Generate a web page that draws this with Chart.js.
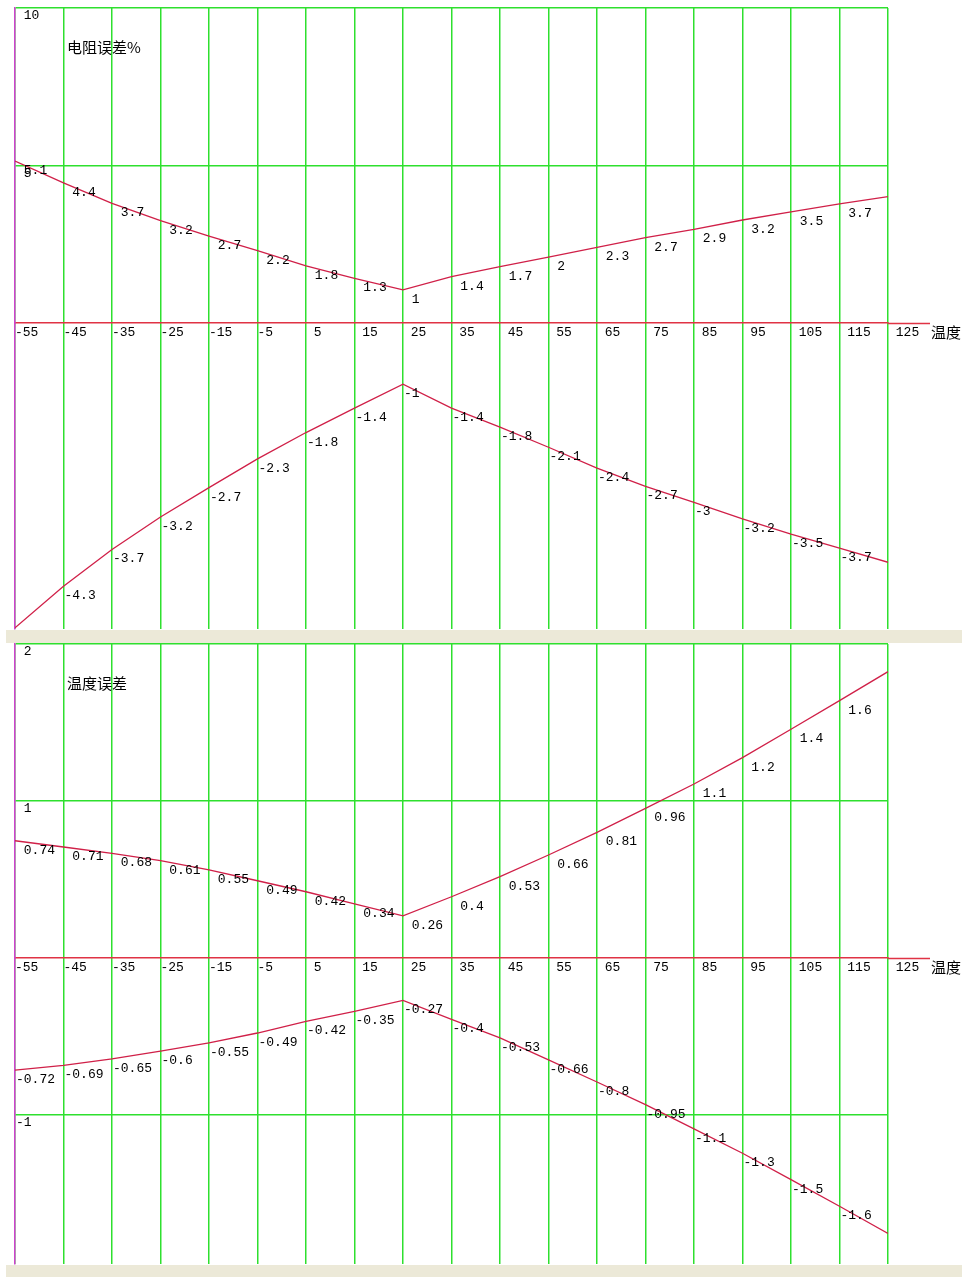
<!DOCTYPE html>
<html>
<head>
<meta charset="utf-8">
<script src="https://cdn.jsdelivr.net/npm/chart.js@4.4.1/dist/chart.umd.min.js"></script>
<style>
  body { margin: 0; background: #fff; width: 962px; height: 1277px; position: relative; overflow: hidden; }
  canvas { position: absolute; left: 0; }
  .bar { position: absolute; left: 6px; right: 0; background: #ece9d8; }
</style>
</head>
<body>
<canvas id="resChart" width="962" height="630" style="top:0"></canvas>
<div class="bar" style="top:630px;height:13px"></div>
<canvas id="tempChart" width="962" height="622" style="top:643px"></canvas>
<div class="bar" style="top:1265px;height:12px"></div>
<script>
// temperature points (also the x tick labels)
const temps = [-55, -45, -35, -25, -15, -5, 5, 15, 25, 35, 45, 55, 65, 75, 85, 95, 105, 115, 125];

// resistance error %, upper and lower curve (as plotted)
const resUp = [5.14, 4.45, 3.80, 3.25, 2.76, 2.30, 1.81, 1.42, 1.05, 1.47, 1.79, 2.09, 2.40, 2.71, 2.97, 3.27, 3.53, 3.78, 4.01];
const resDown = [-4.98, -4.30, -3.70, -3.17, -2.69, -2.22, -1.79, -1.39, -1.00, -1.39, -1.70, -2.03, -2.37, -2.67, -2.93, -3.20, -3.45, -3.68, -3.91];
// numbers written next to the points
const resUpShown = [5.1, 4.4, 3.7, 3.2, 2.7, 2.2, 1.8, 1.3, 1, 1.4, 1.7, 2, 2.3, 2.7, 2.9, 3.2, 3.5, 3.7, null];
const resDownShown = [null, -4.3, -3.7, -3.2, -2.7, -2.3, -1.8, -1.4, -1, -1.4, -1.8, -2.1, -2.4, -2.7, -3, -3.2, -3.5, -3.7, null];

// temperature error
const tmpUp = [0.747, 0.707, 0.667, 0.620, 0.561, 0.492, 0.422, 0.344, 0.268, 0.39, 0.518, 0.656, 0.80, 0.953, 1.108, 1.276, 1.457, 1.639, 1.824];
const tmpDown = [-0.715, -0.684, -0.643, -0.594, -0.541, -0.478, -0.404, -0.34, -0.27, -0.391, -0.509, -0.649, -0.79, -0.934, -1.089, -1.244, -1.412, -1.582, -1.756];
const tmpUpShown = [0.74, 0.71, 0.68, 0.61, 0.55, 0.49, 0.42, 0.34, 0.26, 0.4, 0.53, 0.66, 0.81, 0.96, 1.1, 1.2, 1.4, 1.6, null];
const tmpDownShown = [-0.72, -0.69, -0.65, -0.6, -0.55, -0.49, -0.42, -0.35, -0.27, -0.4, -0.53, -0.66, -0.8, -0.95, -1.1, -1.3, -1.5, -1.6, null];

// y tick labels
const resUpTicks = [5, 10];
const resDownTicks = [];
const tmpUpTicks = [1, 2];
const tmpDownTicks = [-1];

const MONO = "'Liberation Mono', 'DejaVu Sans Mono', monospace";
const CJK = "'Noto Sans CJK SC', sans-serif";
const GREEN = '#2ee02e';
const AXIS_RED = '#e03344';
const LINE_RED = '#d02048';
const MAGENTA = '#d040d0';

// positive numbers get a leading blank, like the old program did
function fmt(v) {
    return (v >= 0 ? ' ' : '') + v;
}

function noPad(scale) {
    scale.paddingTop = 0;
    scale.paddingBottom = 0;
    scale.paddingLeft = 0;
    scale.paddingRight = 0;
}

const pointLabels = {
    id: 'pointLabels',
    afterDatasetsDraw(chart) {
        const ctx = chart.ctx;
        const a = chart.chartArea;
        ctx.save();
        ctx.beginPath();
        ctx.rect(a.left, a.top, a.right - a.left, a.bottom - a.top);
        ctx.clip();
        ctx.font = '13px ' + MONO;
        ctx.fillStyle = '#000';
        ctx.textAlign = 'left';
        ctx.textBaseline = 'alphabetic';
        chart.data.datasets.forEach((ds, i) => {
            chart.getDatasetMeta(i).data.forEach((pt, j) => {
                const t = ds.shown[j];
                if (t === null) return;
                ctx.fillText(fmt(t), pt.x + 1, pt.y + 13);
            });
        });
        ctx.restore();
    },
    afterDraw(chart, args, opts) {
        const ctx = chart.ctx;
        const a = chart.chartArea;
        const y0 = Math.round(chart.scales.yUp.getPixelForValue(0)) + 0.5;
        ctx.save();
        ctx.strokeStyle = AXIS_RED;
        ctx.lineWidth = 1.5;
        ctx.beginPath();
        ctx.moveTo(a.right, y0);
        ctx.lineTo(930, y0);
        ctx.stroke();
        ctx.fillStyle = '#000';
        ctx.font = '15px ' + CJK;
        ctx.textBaseline = 'middle';
        ctx.textAlign = 'left';
        ctx.fillText(opts.title, a.left + 52, a.top + 39);
        ctx.fillText(opts.xTitle, 931, y0 + 9);
        ctx.restore();
    }
};

function makeChart(id, p) {
    const tickFont = { family: MONO, size: 13 };
    return new Chart(document.getElementById(id), {
        type: 'line',
        data: {
            datasets: [{
                data: temps.map((t, i) => ({ x: t, y: p.up[i] })),
                shown: p.upShown,
                yAxisID: 'yUp'
            }, {
                data: temps.map((t, i) => ({ x: t, y: p.down[i] })),
                shown: p.downShown,
                yAxisID: 'yDown'
            }]
        },
        options: {
            responsive: false,
            animation: false,
            devicePixelRatio: 1,
            layout: { padding: { left: 13, right: 74, top: p.padTop, bottom: p.padBottom } },
            elements: {
                line: { borderColor: LINE_RED, borderWidth: 1.3, tension: 0 },
                point: { radius: 0, hoverRadius: 0 }
            },
            plugins: {
                legend: { display: false },
                tooltip: { enabled: false },
                pointLabels: { title: p.title, xTitle: '温度' }
            },
            scales: {
                x: {
                    type: 'linear',
                    min: temps[0],
                    max: temps[temps.length - 1],
                    position: { yUp: 0 },
                    afterBuildTicks: s => { s.ticks = temps.map(v => ({ value: v })); },
                    afterFit: noPad,
                    grid: { color: GREEN, lineWidth: 1.5, drawTicks: false },
                    border: { color: AXIS_RED, width: 1.5 },
                    ticks: {
                        align: 'start', autoSkip: false, maxRotation: 0, padding: 2,
                        color: '#000', font: tickFont,
                        callback: v => fmt(v)
                    }
                },
                yUp: {
                    type: 'linear',
                    position: 'left',
                    stack: 'panel',
                    stackWeight: p.upWeight,
                    weight: 2,
                    min: 0,
                    max: p.upMax,
                    afterBuildTicks: s => { s.ticks = p.upTicks.map(v => ({ value: v })); },
                    afterFit: noPad,
                    grid: { color: GREEN, lineWidth: 1.5, drawTicks: false },
                    border: { color: MAGENTA, width: 1.5 },
                    ticks: { mirror: true, padding: 1, color: '#000', font: tickFont, callback: v => ['', fmt(v)] }
                },
                yDown: {
                    type: 'linear',
                    position: 'left',
                    stack: 'panel',
                    stackWeight: p.downWeight,
                    weight: 1,
                    min: p.downMin,
                    max: 0,
                    afterBuildTicks: s => { s.ticks = p.downTicks.map(v => ({ value: v })); },
                    afterFit: noPad,
                    grid: { display: p.downTicks.length > 0, color: GREEN, lineWidth: 1.5, drawTicks: false },
                    border: { color: MAGENTA, width: 1.5 },
                    ticks: {
                        display: p.downTicks.length > 0,
                        mirror: true, padding: 1, color: '#000', font: tickFont,
                        callback: v => ['', fmt(v)]
                    }
                }
            }
        },
        plugins: [pointLabels]
    });
}

makeChart('resChart', {
    up: resUp, down: resDown, upShown: resUpShown, downShown: resDownShown,
    upTicks: resUpTicks, downTicks: resDownTicks,
    upMax: 10, downMin: -5, upWeight: 315, downWeight: 306,
    padTop: 8, padBottom: 1, title: '电阻误差%'
});

makeChart('tempChart', {
    up: tmpUp, down: tmpDown, upShown: tmpUpShown, downShown: tmpDownShown,
    upTicks: tmpUpTicks, downTicks: tmpDownTicks,
    upMax: 2, downMin: -1.95, upWeight: 314, downWeight: 306,
    padTop: 1, padBottom: 1, title: '温度误差'
});
</script>
</body>
</html>
